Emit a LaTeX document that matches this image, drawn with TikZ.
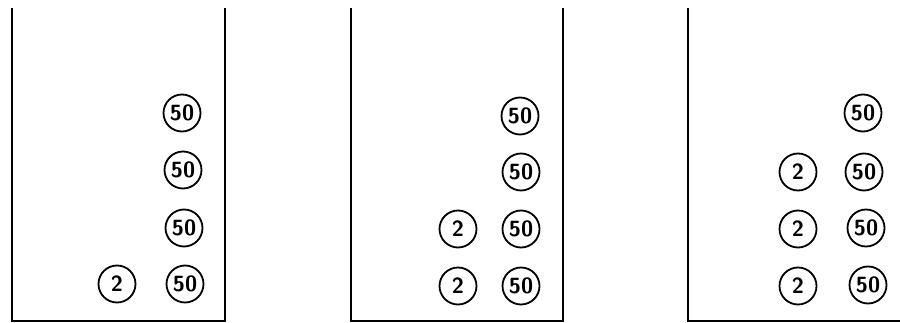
\documentclass[tikz,border=0pt]{standalone}
\usepackage{tikz}

\begin{document}
\begin{tikzpicture}[
      x=1pt, y=-1pt,
      wall/.style={line width=2.2pt, line join=miter},
      coin/.style={draw, circle, line width=1.8pt, minimum size=37pt,
                   inner sep=0pt, font=\fontsize{22}{22}\selectfont\sffamily\bfseries}
    ]
    \useasboundingbox (0,0) rectangle (900,323);
    % three jars
    \draw[wall] (12,8) -- (12,321) -- (225,321) -- (225,8);
    \draw[wall] (351,8) -- (351,321) -- (563,321) -- (563,8);
    \draw[wall] (688,8) -- (688,321) -- (900,321);
    % first jar
    \node[coin] (fiftyA1) at (182,113) {50};
    \node[coin] (fiftyA2) at (183,170) {50};
    \node[coin] (fiftyA3) at (184,228) {50};
    \node[coin] (fiftyA4) at (185,284) {50};
    \node[coin] (twoA1) at (117,284) {2};
    % second jar
    \node[coin] (fiftyB1) at (520,116) {50};
    \node[coin] (fiftyB2) at (521,172) {50};
    \node[coin] (fiftyB3) at (521,229) {50};
    \node[coin] (fiftyB4) at (521,286) {50};
    \node[coin] (twoB1) at (458,286) {2};
    \node[coin] (twoB2) at (458,229) {2};
    % third jar
    \node[coin] (fiftyC1) at (863,113) {50};
    \node[coin] (fiftyC2) at (864,172) {50};
    \node[coin] (fiftyC3) at (866,228) {50};
    \node[coin] (fiftyC4) at (868,285) {50};
    \node[coin] (twoC1) at (798,286) {2};
    \node[coin] (twoC2) at (798,229) {2};
    \node[coin] (twoC3) at (798,172) {2};
  \end{tikzpicture}
\end{document}
